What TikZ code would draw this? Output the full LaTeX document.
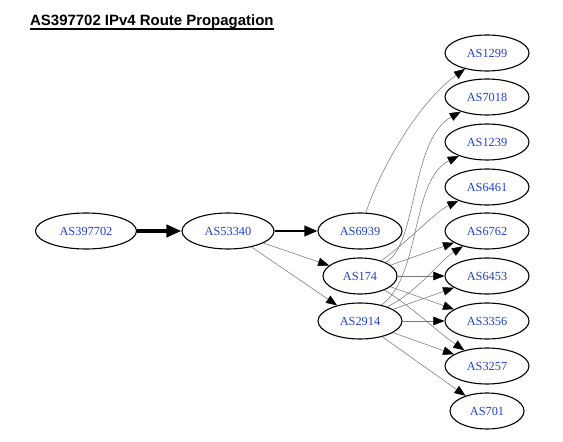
\documentclass[tikz,border=0pt]{standalone}
\usepackage{fontspec}
\setmainfont{Liberation Serif}
\newfontfamily\titlefont{Liberation Sans}
\usetikzlibrary{shapes.geometric,arrows.meta}
\definecolor{labelblue}{RGB}{36,64,200}
\definecolor{edgegray}{RGB}{120,120,120}
\tikzset{
  asnode/.style={draw=black, line width=1.1bp, ellipse, inner sep=0pt,
    minimum height=36bp, text=labelblue, font=\fontsize{12.4}{14}\selectfont},
  thinedge/.style={draw=edgegray, line width=0.55bp,
    -{Triangle[length=11bp,width=8.5bp,fill=black,color=black]}},
  thickedge/.style={draw=black, line width=4bp,
    -{Triangle[length=15bp,width=12bp]}},
  mededge/.style={draw=black, line width=2.2bp,
    -{Triangle[length=13bp,width=10.5bp]}},
}
\begin{document}
\begin{tikzpicture}[x=1bp,y=-1bp]
\useasboundingbox (0,0) rectangle (563,442);
\node[anchor=base west, inner sep=0pt, font=\titlefont\bfseries\fontsize{15}{18}\selectfont] (title) at (30,26) {AS397702 IPv4 Route Propagation};
\draw[line width=1.1bp] ([yshift=-3bp]title.base west) -- ([yshift=-3bp]title.base east);

\node[asnode, minimum width=101bp] (n397702) at (86,231) {AS397702};
\node[asnode, minimum width=92bp] (n53340) at (228,231) {AS53340};
\node[asnode, minimum width=84bp] (n6939) at (360,231) {AS6939};
\node[asnode, minimum width=74bp] (n174) at (360,276) {AS174};
\node[asnode, minimum width=84bp] (n2914) at (360,321) {AS2914};

\node[asnode, minimum width=84bp] (n1299) at (487,53) {AS1299};
\node[asnode, minimum width=84bp] (n7018) at (487,97) {AS7018};
\node[asnode, minimum width=84bp] (n1239) at (487,142) {AS1239};
\node[asnode, minimum width=84bp] (n6461) at (487,187) {AS6461};
\node[asnode, minimum width=84bp] (n6762) at (487,231) {AS6762};
\node[asnode, minimum width=84bp] (n6453) at (487,276) {AS6453};
\node[asnode, minimum width=84bp] (n3356) at (487,321) {AS3356};
\node[asnode, minimum width=84bp] (n3257) at (487,366) {AS3257};
\node[asnode, minimum width=74bp] (n701) at (487,411) {AS701};

\draw[thickedge] (n397702) -- (n53340);
\draw[mededge] (n53340) -- (n6939);
\draw[thinedge] (n53340) -- (n174);
\draw[thinedge] (n53340) -- (n2914);

\draw[thinedge] (n6939) .. controls (378,175) and (415,105) .. (n1299);
\draw[thinedge] (n174) .. controls (418,245) and (410,140) .. (n7018);
\draw[thinedge] (n2914) .. controls (422,275) and (410,180) .. (n1239);
\draw[thinedge] (n174) .. controls (410,240) and (435,212) .. (n6461);
\draw[thinedge] (n174) -- (n6762);
\draw[thinedge] (n2914) .. controls (420,290) and (438,262) .. (n6762);
\draw[thinedge] (n174) -- (n6453);
\draw[thinedge] (n2914) -- (n6453);
\draw[thinedge] (n174) -- (n3356);
\draw[thinedge] (n2914) -- (n3356);
\draw[thinedge] (n174) .. controls (410,305) and (435,330) .. (n3257);
\draw[thinedge] (n2914) -- (n3257);
\draw[thinedge] (n2914) -- (n701);
\end{tikzpicture}
\end{document}
